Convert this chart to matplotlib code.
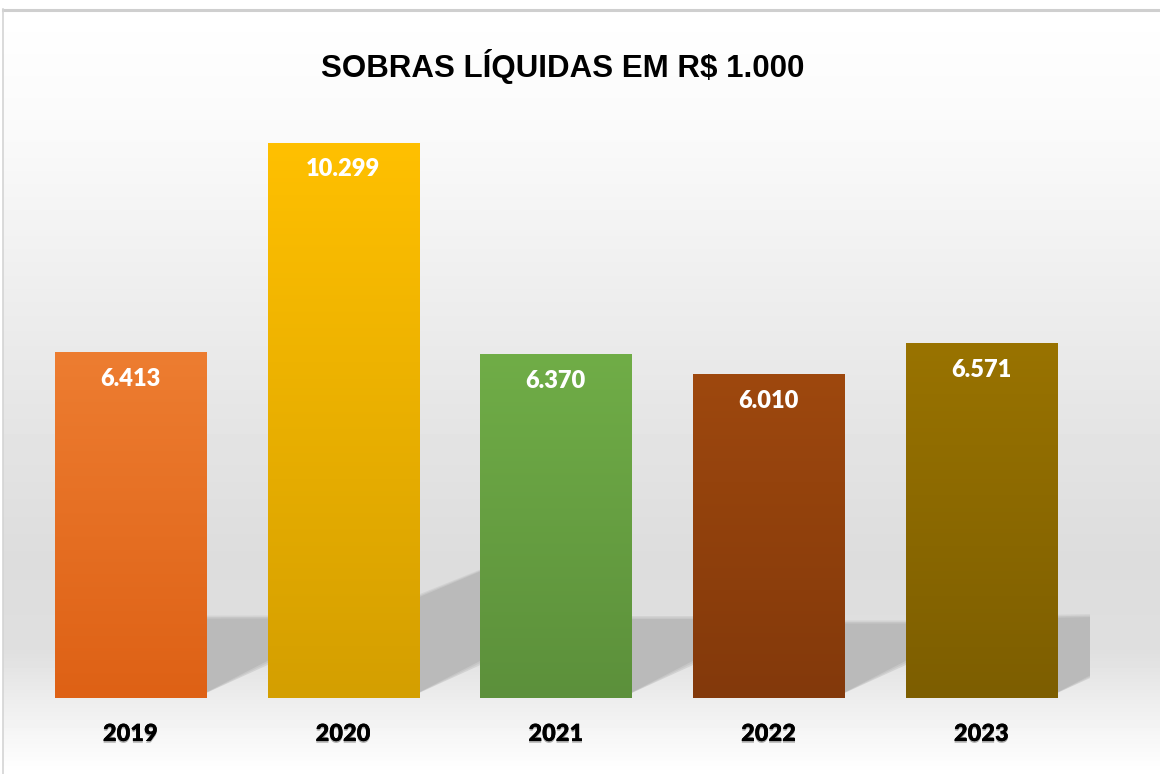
import matplotlib
matplotlib.use("Agg")
import matplotlib.pyplot as plt
import numpy as np
from matplotlib.colors import LinearSegmentedColormap
from matplotlib.patches import Polygon
import matplotlib.patheffects as pe

# dados
anos = ["2019", "2020", "2021", "2022", "2023"]
sobras = [6413, 10299, 6370, 6010, 6571]
rotulos = ["6.413", "10.299", "6.370", "6.010", "6.571"]
cor_topo = ["#ED7D31", "#FFC000", "#70AD47", "#9E480E", "#997300"]
cor_base = ["#DE6115", "#D49F00", "#5C903B", "#83390B", "#7D5E00"]
titulo = "SOBRAS LÍQUIDAS EM R$ 1.000"

W, H = 1160, 774
fig = plt.figure(figsize=(W / 100, H / 100), dpi=100)

# fundo com degradê
ax_bg = fig.add_axes([0, 0, 1, 1], zorder=0)
ys = np.array([0, 9, 150, 300, 450, 560, 650, 700, 740, 774])
vs = np.array([1.0, 1.0, 0.975, 0.93, 0.89, 0.865, 0.875, 0.93, 0.97, 1.0])
col = np.interp(np.arange(H), ys, vs)
img = np.repeat(col[:, None], W, axis=1)
img[:9, :] = 1.0
img[:, :3] = 1.0
ax_bg.imshow(img, cmap="gray", vmin=0, vmax=1, extent=[0, W, H, 0], aspect="auto")
ax_bg.plot([3, W], [9.5, 9.5], color="#cfcfcf", lw=2.2)
ax_bg.plot([3, 3], [9, H], color="#d4d4d4", lw=1.2)
ax_bg.set_xlim(0, W)
ax_bg.set_ylim(H, 0)
ax_bg.axis("off")

# eixo principal
left_px, right_px, bottom_px, top_px = 24, 1090, 698, 100
ax = fig.add_axes([left_px / W, 1 - bottom_px / H, (right_px - left_px) / W,
                   (bottom_px - top_px) / H], zorder=1)
ax.patch.set_alpha(0)
px_por_unidade = 555 / 10299
ymax = (bottom_px - top_px) / px_por_unidade
xlim = (-0.5, -0.5 + (right_px - left_px) / 212.75)

x = np.arange(len(anos))
barras = ax.bar(x, sobras, width=0.71, color=cor_topo, zorder=3,
                edgecolor="none")

# sombras atrás das barras (bordas suaves com camadas)
ux = 1 / 212.75
uy = 1 / px_por_unidade
for b, v in zip(barras, sobras):
    x1 = b.get_x() + b.get_width()
    g = 64 * ux
    sobe = 0.6 * 64 * uy
    topo_dir = 0.23 * v
    topo_esq = 0.23 * v - 0.15 * max(v - 6400, 0)
    for a, c in [(3, "#d2d2d2"), (1.5, "#c6c6c6"), (0, "#bababa")]:
        d = a * uy
        pts = [(x1 - 0.05, 0), (x1 + g + a * ux, sobe - d),
               (x1 + g + a * ux, topo_dir + d), (x1 - 0.05, topo_esq + d)]
        ax.add_patch(Polygon(pts, closed=True, facecolor=c, edgecolor="none",
                             zorder=1 + (3 - a) * 0.2))

# degradê das barras
for b, ct, cb in zip(barras, cor_topo, cor_base):
    cmap = LinearSegmentedColormap.from_list("g", [cb, ct])
    grad = np.linspace(0, 1, 256)[:, None]
    ax.imshow(grad, cmap=cmap, origin="lower", aspect="auto", zorder=4,
              extent=[b.get_x(), b.get_x() + b.get_width(), 0, b.get_height()])
ax.set_xlim(*xlim)
ax.set_ylim(0, ymax)

fam = ["Lato", "DejaVu Sans"]
for xi, v, r in zip(x, sobras, rotulos):
    ax.annotate(r, (xi, v), xytext=(0, -19), textcoords="offset points",
                ha="center", va="center", color="white", fontsize=17,
                fontweight="heavy", family=fam, zorder=5)

ax.set_xticks(x, anos)
ax.tick_params(axis="x", length=0, pad=18, labelsize=17)
for t in ax.get_xticklabels():
    t.set_fontweight("heavy")
    t.set_family(fam)
    t.set_path_effects([pe.withSimplePatchShadow(offset=(0, -1.2), shadow_rgbFace="#555555", alpha=0.5),
                        pe.Normal()])
ax.set_yticks([])
for s in ax.spines.values():
    s.set_visible(False)

fig.text(563 / W, 1 - 67 / H, titulo, ha="center", va="center", fontsize=22.5,
         fontweight="bold", family=["Liberation Sans", "DejaVu Sans"], zorder=5)

fig.savefig("out.png", dpi=100)
